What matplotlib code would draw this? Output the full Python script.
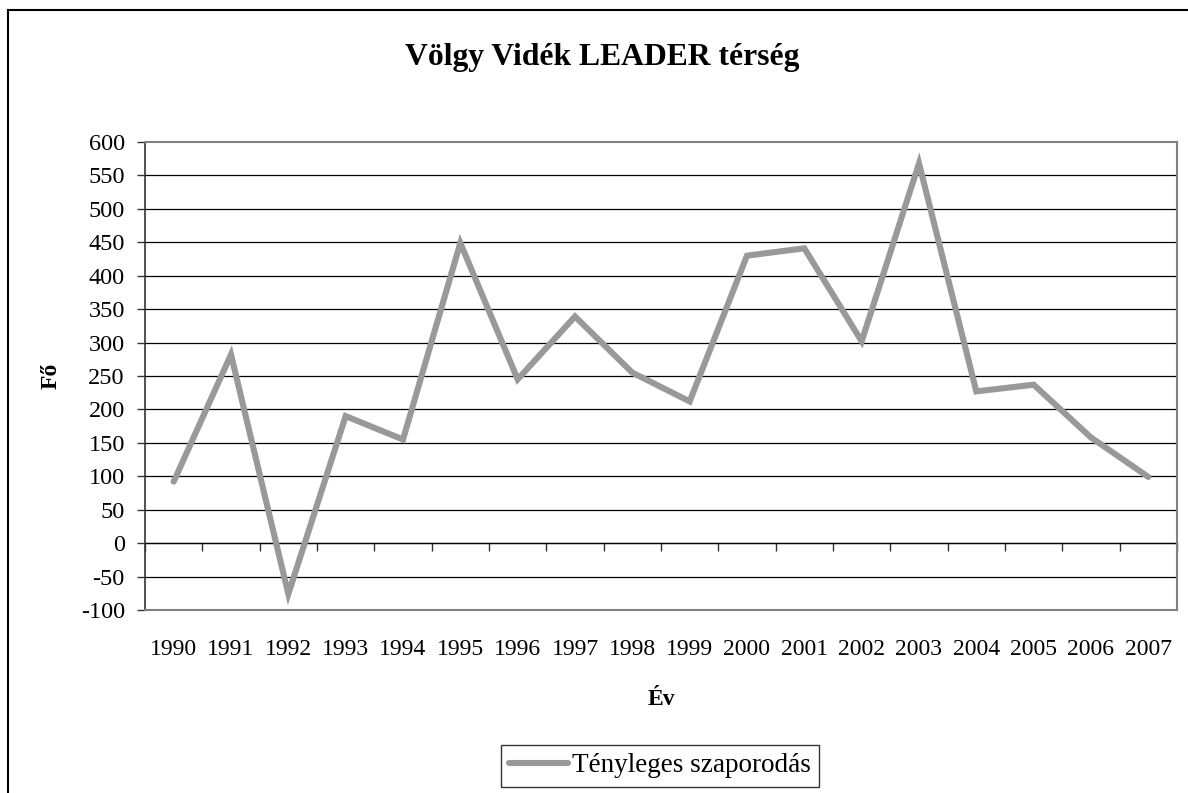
import numpy as np
import matplotlib.pyplot as plt
from matplotlib.patches import Rectangle

plt.rcParams['font.family'] = ['Liberation Serif', 'DejaVu Serif']

# adatok
years = ['1990', '1991', '1992', '1993', '1994', '1995', '1996', '1997', '1998',
         '1999', '2000', '2001', '2002', '2003', '2004', '2005', '2006', '2007']
szaporodas = [92, 282, -76, 190, 155, 449, 245, 339, 255,
              212, 430, 441, 302, 568, 227, 237, 158, 99]
yticks = np.arange(-100, 601, 50)

fig = plt.figure(figsize=(11.88, 7.93), dpi=100)
ax = fig.add_axes([145 / 1188, 1 - 610 / 793, 1032 / 1188, 468 / 793])

x = np.arange(len(years))
ax.plot(x, szaporodas, color='#999999', lw=4.4, solid_joinstyle='miter',
        solid_capstyle='round', label='Tényleges szaporodás', zorder=3)

ax.set_xlim(-0.5, len(years) - 0.5)
ax.set_ylim(-100, 600)
ax.set_yticks(yticks)
ax.set_yticklabels([str(v) for v in yticks], fontsize=17.5)
for v in yticks[1:-1]:
    ax.axhline(v, color='black', lw=0.9, zorder=1)

# kategória címkék alul
ax.set_xticks(x)
ax.set_xticklabels(years, fontsize=17)
ax.tick_params(axis='x', length=0, pad=21)
ax.tick_params(axis='y', direction='out', length=6, width=1, pad=8.5, color='#333333')

for s in ['top', 'right', 'bottom']:
    ax.spines[s].set_color('#808080')
    ax.spines[s].set_linewidth(1.5)
ax.spines['left'].set_color('#333333')
ax.spines['left'].set_linewidth(1.2)

# x tengely a 0 szinten, osztásjelek a kategóriák között
sec = ax.secondary_xaxis(100 / 700)
sec.set_xticks(np.arange(-0.5, len(years), 1.0))
sec.set_xticklabels([])
sec.tick_params(direction='out', length=6, width=1, color='#333333')
sec.spines['bottom'].set_color('black')
sec.spines['bottom'].set_linewidth(0.9)

ax.set_ylabel('Fő', fontsize=17, fontweight='bold', labelpad=14)
ax.set_xlabel('Év', fontsize=17, fontweight='bold', labelpad=21)
fig.text(602 / 1188, 1 - 58 / 793, 'Völgy Vidék LEADER térség', ha='center', va='center',
         fontsize=22.8, fontweight='bold')

leg = ax.legend(loc='center', bbox_to_anchor=(660 / 1188, 1 - 766 / 793),
                bbox_transform=fig.transFigure, fontsize=19.5, frameon=True,
                fancybox=False, edgecolor='black', handlelength=2.15,
                handletextpad=0.15, borderpad=0.3, borderaxespad=0)
leg.get_frame().set_linewidth(1.0)

# diagram keret
fig.patches.append(Rectangle((8 / 1188, -0.1), 1.2, 1 - 10 / 793 + 0.1,
                             transform=fig.transFigure, fill=False,
                             edgecolor='black', lw=1.5))

fig.savefig('out.png', dpi=100)
